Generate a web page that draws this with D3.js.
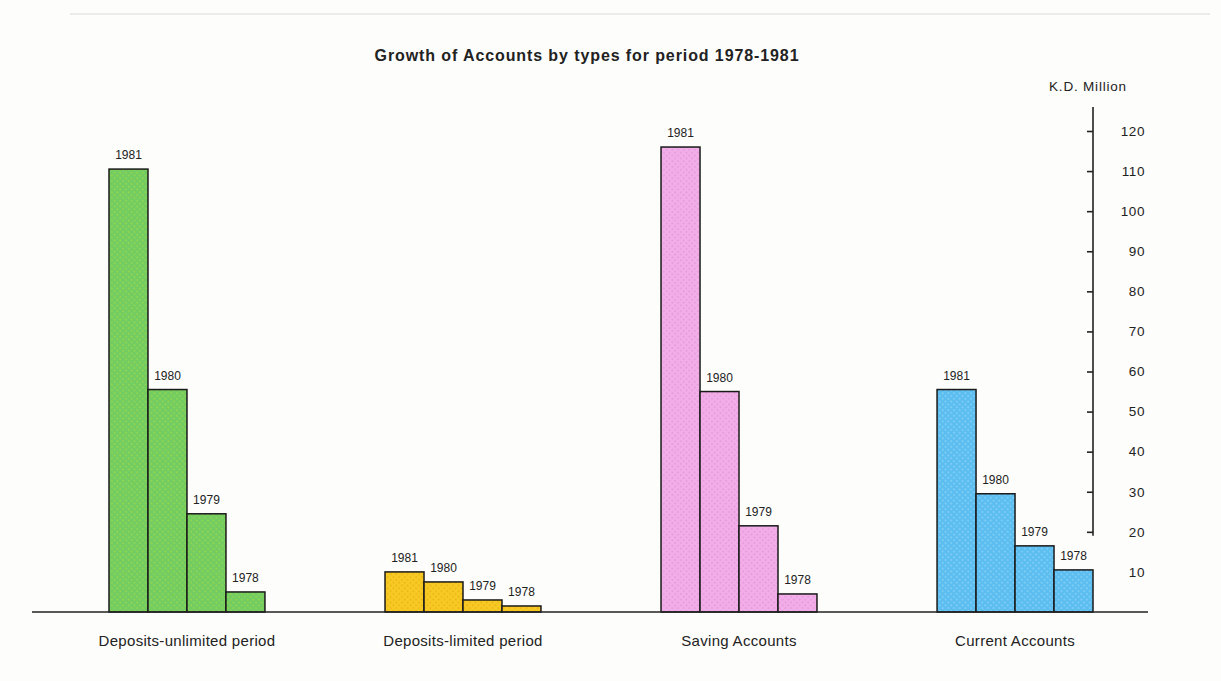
<!DOCTYPE html>
<html>
<head>
<meta charset="utf-8">
<script src="https://cdn.jsdelivr.net/npm/d3@7"></script>
<style>
  html, body { margin: 0; padding: 0; background: #fdfdfb; }
  svg { display: block; font-family: "Liberation Sans", Arial, Helvetica, sans-serif; }
</style>
</head>
<body>
<svg id="chart" width="1221" height="681"></svg>
<script>
// Account types and the years shown inside each group
const categories = ["Deposits-unlimited period", "Deposits-limited period", "Saving Accounts", "Current Accounts"];
const years = ["1981", "1980", "1979", "1978"];

// K.D. million, in the order of `years`
const depositsUnlimited = [110.5, 55.5, 24.5, 5];
const depositsLimited = [10, 7.5, 3, 1.5];
const savingAccounts = [116, 55, 21.5, 4.5];
const currentAccounts = [55.5, 29.5, 16.5, 10.5];

const groupValues = [depositsUnlimited, depositsLimited, savingAccounts, currentAccounts];
const groupColors = ["#72cc62", "#f6c925", "#f2aee9", "#5bbdf0"];
const groupDots = ["#9ad84a", "#eeb20f", "#e696d8", "#8ad2f5"];

const tickValues = [10, 20, 30, 40, 50, 60, 70, 80, 90, 100, 110, 120];

const svg = d3.select("#chart");

// faint trim line along the top of the sheet
svg.append("line")
  .attr("x1", 70).attr("x2", 1210).attr("y1", 14).attr("y2", 14)
  .attr("stroke", "#e6e6e6").attr("stroke-width", 1.5);

// halftone-style textures for the bar fills
const defs = svg.append("defs");
groupColors.forEach((c, i) => {
  const p = defs.append("pattern")
    .attr("id", "tex" + i)
    .attr("width", 4).attr("height", 4)
    .attr("patternUnits", "userSpaceOnUse")
    .attr("patternTransform", "rotate(45)");
  p.append("rect").attr("width", 4).attr("height", 4).attr("fill", c);
  p.append("circle").attr("cx", 2).attr("cy", 2).attr("r", 1.1)
    .attr("fill", groupDots[i]).attr("opacity", 0.8);
});

const y = d3.scaleLinear().domain([0, 120]).range([612, 131]);

const x0 = d3.scaleBand().domain(categories).range([109, 1093]).paddingInner(0.435);
const x1 = d3.scaleBand().domain(years).range([0, x0.bandwidth()]);

// title
svg.append("text")
  .attr("x", 587).attr("y", 61)
  .attr("text-anchor", "middle")
  .attr("font-size", 16).attr("font-weight", "bold")
  .attr("letter-spacing", 0.9)
  .attr("fill", "#222")
  .text("Growth of Accounts by types for period 1978-1981");

// groups of bars
const groups = svg.selectAll("g.group")
  .data(categories.map((c, i) => ({ name: c, values: groupValues[i], idx: i })))
  .join("g")
  .attr("class", "group")
  .attr("transform", d => `translate(${x0(d.name)},0)`);

groups.selectAll("rect")
  .data(d => d.values.map((v, j) => ({ year: years[j], value: v, idx: d.idx })))
  .join("rect")
  .attr("x", d => x1(d.year))
  .attr("y", d => y(d.value))
  .attr("width", x1.bandwidth())
  .attr("height", d => y(0) - y(d.value))
  .attr("fill", d => `url(#tex${d.idx})`)
  .attr("stroke", "#1a1a1a")
  .attr("stroke-width", 1.5);

groups.selectAll("text.year")
  .data(d => d.values.map((v, j) => ({ year: years[j], value: v })))
  .join("text")
  .attr("class", "year")
  .attr("x", d => x1(d.year) + x1.bandwidth() / 2)
  .attr("y", d => y(d.value) - 10)
  .attr("text-anchor", "middle")
  .attr("font-size", 12)
  .attr("fill", "#222")
  .text(d => d.year);

// category labels
svg.selectAll("text.cat")
  .data(categories)
  .join("text")
  .attr("class", "cat")
  .attr("x", d => x0(d) + x0.bandwidth() / 2)
  .attr("y", 646)
  .attr("text-anchor", "middle")
  .attr("font-size", 15)
  .attr("letter-spacing", 0.3)
  .attr("fill", "#222")
  .text(d => d);

// baseline
svg.append("line")
  .attr("x1", 32).attr("x2", 1148)
  .attr("y1", y(0)).attr("y2", y(0))
  .attr("stroke", "#222").attr("stroke-width", 1.6);

// value axis on the right
const axisG = svg.append("g").attr("transform", "translate(1093,0)");
axisG.append("line")
  .attr("x1", 0).attr("x2", 0)
  .attr("y1", 107).attr("y2", y(19))
  .attr("stroke", "#222").attr("stroke-width", 1.6);

const yAxis = d3.axisRight(y)
  .tickValues(tickValues)
  .tickSize(-6)
  .tickFormat(d3.format("d"));
axisG.call(yAxis);
axisG.select(".domain").remove();
axisG.selectAll(".tick line")
  .attr("stroke", "#222").attr("stroke-width", 1.6)
  .attr("display", d => d < 20 ? "none" : null);
axisG.selectAll(".tick text")
  .attr("x", 52)
  .attr("text-anchor", "end")
  .attr("font-size", 13.5)
  .attr("letter-spacing", 0.6)
  .attr("font-family", "Liberation Sans, Arial, sans-serif")
  .attr("fill", "#222");

svg.append("text")
  .attr("x", 1088).attr("y", 91)
  .attr("text-anchor", "middle")
  .attr("font-size", 13.5)
  .attr("letter-spacing", 0.8)
  .attr("fill", "#222")
  .text("K.D. Million");
</script>
</body>
</html>
